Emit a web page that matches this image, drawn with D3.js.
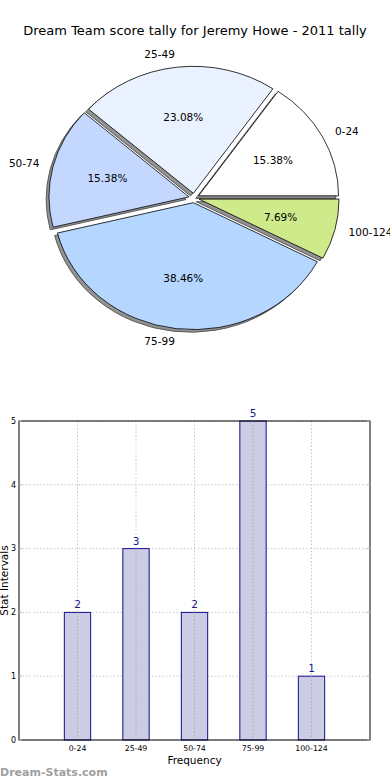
<!DOCTYPE html>
<html>
<head>
<meta charset="utf-8">
<script src="https://cdn.jsdelivr.net/npm/d3@7"></script>
<style>
  html, body { margin: 0; padding: 0; background: #fff; }
  svg { display: block; }
  text { font-family: "DejaVu Sans", sans-serif; }
</style>
</head>
<body>
<svg id="chart" width="390" height="780"></svg>
<script>
// ---- data ----
const title = "Dream Team score tally for Jeremy Howe - 2011 tally";
const categories = ["0-24", "25-49", "50-74", "75-99", "100-124"];
const counts = [2, 3, 2, 5, 1];
const pieColors = ["#ffffff", "#eaf2ff", "#c4d8ff", "#b5d6ff", "#ceea8b"];
const yTicks = [0, 1, 2, 3, 4, 5];
const xLabel = "Frequency";
const yLabel = "Stat Intervals";
const watermark = "Dream-Stats.com";

const svg = d3.select("#chart");

// ---- title ----
svg.append("text")
  .attr("x", 195).attr("y", 35)
  .attr("text-anchor", "middle")
  .attr("font-size", 13)
  .attr("fill", "#000")
  .text(title);

// ---- pie ----
const cx = 194, cy = 198, rx = 140, ry = 127;
const explode = 0.037;
const total = d3.sum(counts);
const pie = d3.pie().sort(null)
  .startAngle(Math.PI / 2)
  .endAngle(Math.PI / 2 - 2 * Math.PI);
const arcs = pie(counts);
const arcGen = d3.arc().innerRadius(0).outerRadius(1);

function mid(a) { return (a.startAngle + a.endAngle) / 2; }
function ux(ang) { return Math.sin(ang); }
function uy(ang) { return -Math.cos(ang); }

const pieG = svg.append("g");
// shadows
arcs.forEach((a, i) => {
  const m = mid(a);
  const ox = cx + explode * rx * ux(m) - 2.8;
  const oy = cy + explode * ry * uy(m) + 2.6;
  pieG.append("path")
    .attr("d", arcGen(a))
    .attr("transform", `translate(${ox},${oy}) scale(${rx},${ry})`)
    .attr("fill", "#939393")
    .attr("stroke", "#5a5a5a")
    .attr("stroke-width", 1)
    .attr("vector-effect", "non-scaling-stroke");
});
// slices
arcs.forEach((a, i) => {
  const m = mid(a);
  const ox = cx + explode * rx * ux(m);
  const oy = cy + explode * ry * uy(m);
  pieG.append("path")
    .attr("d", arcGen(a))
    .attr("transform", `translate(${ox},${oy}) scale(${rx},${ry})`)
    .attr("fill", pieColors[i])
    .attr("stroke", "#000")
    .attr("stroke-width", 0.8)
    .attr("vector-effect", "non-scaling-stroke");
  const lx = ox + 1.1 * rx * ux(m);
  const ly = oy + 1.1 * ry * uy(m);
  pieG.append("text")
    .attr("x", lx).attr("y", ly)
    .attr("dy", "0.36em")
    .attr("text-anchor", ux(m) > 0 ? "start" : "end")
    .attr("font-size", 10.5)
    .text(categories[i]);
  const px = ox + 0.6 * rx * ux(m);
  const py = oy + 0.6 * ry * uy(m);
  pieG.append("text")
    .attr("x", px).attr("y", py)
    .attr("dy", "0.36em")
    .attr("text-anchor", "middle")
    .attr("font-size", 10.5)
    .text((counts[i] / total * 100).toFixed(2) + "%");
});

// ---- bar chart ----
const L = 19, R = 370, T = 421, B = 740;
const x = d3.scaleLinear().domain([0, categories.length + 1]).range([L, R]);
const y = d3.scaleLinear().domain([0, 5]).range([B, T]);
const barW = 0.45;
const barG = svg.append("g");

const gridColor = "#c8c8c8";
barG.selectAll("line.vgrid").data(categories).enter().append("line")
  .attr("x1", (d, i) => x(i + 1)).attr("x2", (d, i) => x(i + 1))
  .attr("y1", T).attr("y2", B)
  .attr("stroke", gridColor).attr("stroke-width", 1)
  .attr("stroke-dasharray", "1.5,2");
barG.selectAll("line.hgrid").data(yTicks).enter().append("line")
  .attr("x1", L).attr("x2", R)
  .attr("y1", d => y(d)).attr("y2", d => y(d))
  .attr("stroke", gridColor).attr("stroke-width", 1)
  .attr("stroke-dasharray", "1.5,2");

barG.selectAll("rect.bar").data(counts).enter().append("rect")
  .attr("x", (d, i) => x(i + 1 - barW / 2))
  .attr("width", (d, i) => x(i + 1 + barW / 2) - x(i + 1 - barW / 2))
  .attr("y", d => y(d))
  .attr("height", d => B - y(d))
  .attr("fill", "#ccccE4")
  .attr("stroke", "#10108a")
  .attr("stroke-width", 1);

barG.selectAll("line.vgrid2").data(categories).enter().append("line")
  .attr("x1", (d, i) => x(i + 1)).attr("x2", (d, i) => x(i + 1))
  .attr("y1", (d, i) => y(counts[i])).attr("y2", B)
  .attr("stroke", "#a8a8b8").attr("stroke-width", 1)
  .attr("stroke-dasharray", "1.5,2");

barG.selectAll("text.val").data(counts).enter().append("text")
  .attr("x", (d, i) => x(i + 1))
  .attr("y", d => y(d) - 4)
  .attr("text-anchor", "middle")
  .attr("font-size", 10.5)
  .attr("fill", "#1a1a8c")
  .text(d => d);

barG.append("rect")
  .attr("x", L).attr("y", T).attr("width", R - L).attr("height", B - T)
  .attr("fill", "none").attr("stroke", "#000").attr("stroke-width", 1);

yTicks.forEach(t => {
  barG.append("line").attr("x1", L).attr("x2", L + 3).attr("y1", y(t)).attr("y2", y(t))
    .attr("stroke", "#bbb");
  barG.append("line").attr("x1", R - 3).attr("x2", R).attr("y1", y(t)).attr("y2", y(t))
    .attr("stroke", "#bbb");
});

barG.selectAll("text.yt").data(yTicks).enter().append("text")
  .attr("x", L - 3).attr("y", d => y(d))
  .attr("dy", "0.35em")
  .attr("text-anchor", "end")
  .attr("font-size", 8)
  .text(d => d);

barG.selectAll("text.xt").data(categories).enter().append("text")
  .attr("x", (d, i) => x(i + 1)).attr("y", B + 11)
  .attr("text-anchor", "middle")
  .attr("font-size", 7.8)
  .text(d => d);

svg.append("text")
  .attr("x", (L + R) / 2).attr("y", 764)
  .attr("text-anchor", "middle")
  .attr("font-size", 10.5)
  .text(xLabel);
svg.append("text")
  .attr("transform", `translate(7.5, ${(T + B) / 2}) rotate(-90)`)
  .attr("text-anchor", "middle")
  .attr("font-size", 10.5)
  .text(yLabel);

svg.append("text")
  .attr("x", 0).attr("y", 776)
  .attr("font-size", 11)
  .attr("font-weight", "bold")
  .attr("fill", "#a0a0a0")
  .text(watermark);
</script>
</body>
</html>
